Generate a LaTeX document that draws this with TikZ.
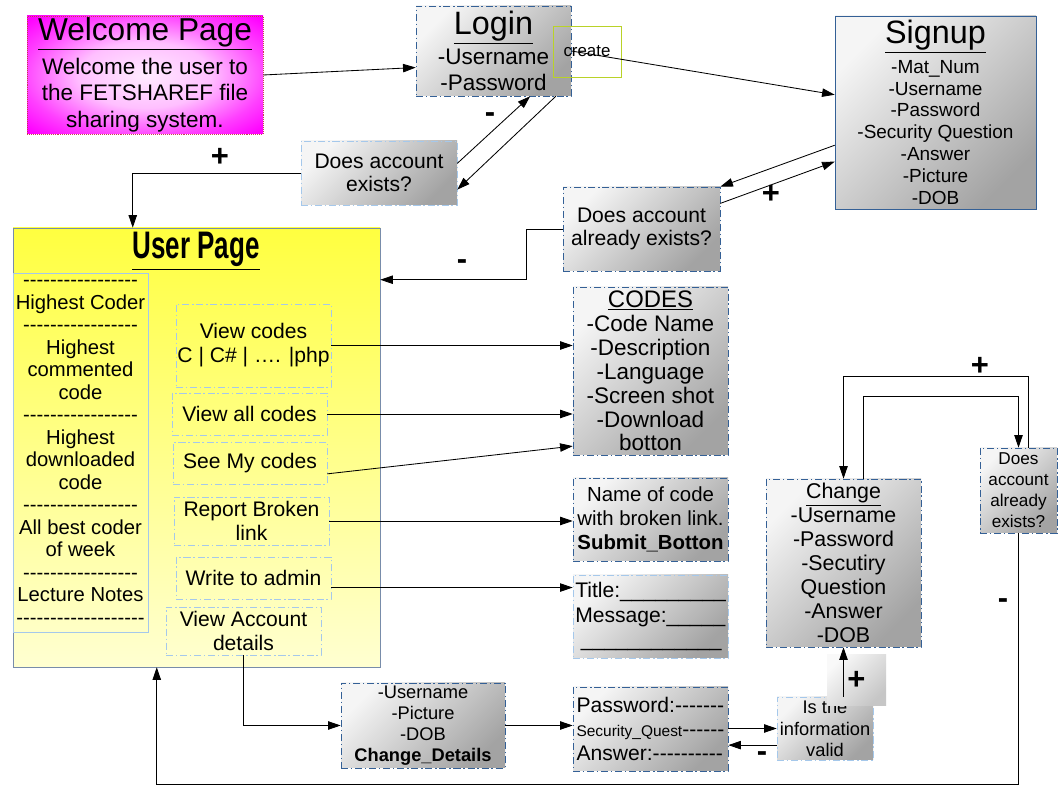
\documentclass[tikz,border=0pt]{standalone}
\usepackage{fontspec}
\setmainfont{Liberation Sans}
\usetikzlibrary{shapes,arrows.meta}

\definecolor{boxblue}{RGB}{52,96,150}
\definecolor{paleblue}{RGB}{165,200,235}
\definecolor{framegray}{RGB}{120,140,170}
\definecolor{limeline}{RGB}{185,210,40}
\definecolor{dotred}{RGB}{200,60,80}

\pgfdeclareradialshading{welcomeglow}{\pgfpoint{0bp}{0bp}}{color(0bp)=(magenta!8);
    color(14bp)=(magenta!25); color(26bp)=(magenta!75); color(34bp)=(magenta); color(50bp)=(magenta)}

\newcommand\fsz[2]{\fontsize{#1}{#2}\selectfont}
\newcommand\dashes[1]{\foreach\i in {1,...,#1}{-\kern0pt}}

\begin{document}
\begin{tikzpicture}[x=0.025cm, y=-0.025cm]
        % Define styles
        \tikzset{boxsize/.style 2 args={minimum width=#1*0.025cm, minimum height=#2*0.025cm}}
        \tikzstyle{card} = [rectangle, draw=boxblue, dash pattern=on 5pt off 2pt on 1pt off 2pt,
            top color=gray!8, bottom color=gray!72, shading angle=45, align=center, inner sep=1pt]
        \tikzstyle{palecard} = [card, draw=paleblue]
        \tikzstyle{option} = [rectangle, draw=paleblue, dash pattern=on 5pt off 2pt on 1pt off 2pt,
            align=center, inner sep=1pt, font=\fsz{15}{17}]
        \tikzstyle{arrow} = [line width=0.6pt, ->, >={Triangle[length=9pt,width=6pt]}]
        \tikzstyle{sign} = [font=\fsz{22}{22}\bfseries]

        \fill [white] (0,0) rectangle (1061,799);
        \useasboundingbox (0,0) rectangle (1061,799);

        % Nodes
        \node [rectangle, draw=dotred, densely dotted, shading=welcomeglow,
            boxsize={236}{118}, align=center, inner sep=1pt, font=\fsz{16}{19}] (welcome) at (145,75)
            {{\fsz{22.5}{26}\underline{Welcome Page}}\\[5pt]Welcome the user to\\the FETSHAREF file\\sharing system.};
        \node [card, boxsize={155}{90}, font=\fsz{16}{19}] (login) at (493.5,51)
            {{\fsz{23}{26}\underline{Login}}\\[2pt]-Username\\-Password};
        \node [card, solid, boxsize={201}{193}, font=\fsz{13.5}{15.6}] (signup) at (935.5,112.5)
            {{\fsz{23}{26}\underline{Signup}}\\[4pt]-Mat\_Num\\-Username\\-Password\\-Security Question\\-Answer\\-Picture\\-DOB};
        \node [palecard, boxsize={156}{64}, font=\fsz{15}{16.5}] (exists1) at (379,173) {Does account\\exists?};
        \node [card, boxsize={157}{84}, font=\fsz{15}{16.5}] (exists2) at (641.5,229) {Does account\\already exists?};

        \node [rectangle, draw=framegray, top color=yellow!75, bottom color=yellow!18, boxsize={367}{439}] (userpage) at (196.5,447.5) {};
        \node [font=\fsz{21}{22}\bfseries] (usertitle) at (196,251) {\scalebox{0.88}[1.3]{\underline{User Page}}};
        \node [rectangle, draw=paleblue, boxsize={135}{359}, align=center, inner sep=0pt, font=\fsz{14.4}{16}] (ranking) at (80.5,452.5)
            {\dashes{17}\\Highest Coder\\\dashes{17}\\Highest\\commented\\code\\\dashes{17}\\Highest\\downloaded\\code\\\dashes{17}\\All best coder\\of week\\\dashes{17}\\Lecture Notes\\\dashes{19}};
        \node [option, boxsize={155}{83}] (viewcodes) at (253.5,345.5) {View codes\\C | C\# | …. |php};
        \node [option, boxsize={155}{42}] (viewall) at (249.5,414) {View all codes};
        \node [option, boxsize={154}{42}] (seemy) at (250,463) {See My codes};
        \node [option, boxsize={155}{48}] (report) at (251.5,521) {Report Broken\\link};
        \node [option, boxsize={155}{42}] (write) at (253.5,578) {Write to admin};
        \node [option, boxsize={155}{48}] (account) at (243.5,631) {View Account\\details};

        \node [card, boxsize={155}{168}, font=\fsz{16}{17}] (codes) at (650.5,371)
            {{\fsz{17}{17}\underline{CODES}}\\-Code Name\\-Description\\-Language\\-Screen shot\\-Download\\botton};
        \node [card, boxsize={155}{83}, font=\fsz{14.5}{17}] (broken) at (650.5,519.5)
            {Name of code\\with broken link.\\\textbf{Submit\_Botton}};
        \node [palecard, align=left, boxsize={155}{83}, font=\fsz{15}{17.5}] (message) at (650.5,616.5)
            {Title:\_\_\_\_\_\_\_\_\_\\Message:\_\_\_\_\_\\\hspace*{4pt}\_\_\_\_\_\_\_\_\_\_\_\_};

        \node [card, boxsize={155}{168}, font=\fsz{15.2}{17}] (change) at (843.5,563)
            {\underline{Change}\\-Username\\-Password\\-Secutiry\\Question\\-Answer\\-DOB};
        \node [card, boxsize={77}{85}, font=\fsz{12.2}{15}] (exists3) at (1018.5,490.5) {Does\\account\\already\\exists?};

        \node [card, boxsize={164}{85}, font=\fsz{13}{15}] (details) at (423,725.5)
            {-Username\\-Picture\\-DOB\\\textbf{Change\_Details}};
        \node [card, align=left, boxsize={155}{84}, font=\fsz{15}{17}] (password) at (650.5,729)
            {Password:\dashes{7}\\{\fsz{11}{17}Security\_Quest}\dashes{6}\\Answer:\dashes{10}};
        \node [palecard, boxsize={96}{63}, font=\fsz{13}{15}] (valid) at (825,728.5) {Is the\\information\\valid};
        \node [rectangle, top color=gray!5, bottom color=gray!45, shading angle=45, boxsize={59}{51},
            font=\fsz{22}{22}\bfseries] (plusbox) at (856.5,680.5) {+};
        \node [rectangle, draw=limeline, boxsize={68}{51}, font=\fsz{12}{14}] (create) at (587,51.5) {create};

        % Arrows
        \draw [arrow] (welcome.east) -- (login.192);
        \draw [arrow] (login.east) -- (signup.170);
        \draw [arrow] (exists1.7) -- (login.-51);
        \draw [arrow] (login.-36) -- (exists1.-12);
        \draw [arrow] (exists1.west) -| ([xshift=3cm]userpage.north west);
        \draw [arrow] (signup.198) -- (exists2.north east);
        \draw [arrow] (exists2.18) -- (signup.206);
        \draw [arrow] (exists2.west) -- ++(-36,0) |- ([yshift=-1.3cm]userpage.north east);
        \draw [arrow] (viewcodes.east) -- (viewcodes.east -| codes.west);
        \draw [arrow] (viewall.east) -- (viewall.east -| codes.west);
        \draw [arrow] (seemy.-8) -- (codes.224);
        \draw [arrow] (report.east) -- (report.east -| broken.west);
        \draw [arrow] (write.-7) -- (write.-7 -| message.west);
        \draw [arrow] (account.south) |- (details.west);
        \draw [arrow] (details.east) -- (details.east -| password.west);
        \draw [arrow] (password.east |- valid.west) -- (valid.west);
        \draw [arrow] (valid.199) -- (valid.199 -| password.east);
        \draw [arrow] (change.south |- valid.north) -- (change.south);
        \draw [arrow] ([xshift=0.5cm]change.north) -- ++(0,-82) -| (exists3.north);
        \draw [arrow] ([xshift=0.25cm]exists3.north) -- ++(0,-71) -| (change.north);
        \draw [arrow] (exists3.south) -- ++(0,251) -| ([xshift=3.6cm]userpage.south west);

        % Labels
        \node [sign] (minus1) at (490,118) {-};
        \node [sign] (plus1) at (220,157) {+};
        \node [sign] (plus2) at (771,194) {+};
        \node [sign] (minus2) at (462,265) {-};
        \node [sign] (plus3) at (980,366) {+};
        \node [sign] (minus3) at (1003,604) {-};
        \node [sign] (minus4) at (762,757) {-};
\end{tikzpicture}
\end{document}
